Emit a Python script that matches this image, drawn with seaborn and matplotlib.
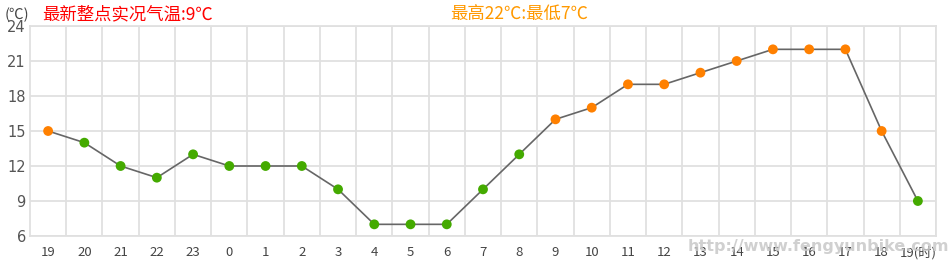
import matplotlib
matplotlib.use("Agg")
import matplotlib.pyplot as plt
import seaborn as sns
import pandas as pd
import numpy as np
from matplotlib import font_manager

hours = ["19", "20", "21", "22", "23", "0", "1", "2", "3", "4", "5", "6", "7",
         "8", "9", "10", "11", "12", "13", "14", "15", "16", "17", "18", "19(时)"]
temps = [15, 14, 12, 11, 13, 12, 12, 12, 10, 7, 7, 7, 10,
         13, 16, 17, 19, 19, 20, 21, 22, 22, 22, 15, 9]
yticks = [6, 9, 12, 15, 18, 21, 24]

sns.set_theme(style="white")
plt.rcParams['font.family'] = ['Noto Sans CJK SC', 'DejaVu Sans']

installed = {f.name for f in font_manager.fontManager.ttflist}
if 'Liberation Sans Narrow' in installed:
    wm_family, wm_size = ['Liberation Sans Narrow'], 15
else:
    wm_family, wm_size = ['DejaVu Sans'], 11.5

df = pd.DataFrame({"pos": np.arange(len(hours)), "temp": temps})
df["level"] = np.where(df["temp"] >= 15, "high", "low")

fig = plt.figure(figsize=(9.51, 2.62), dpi=100)
ax = fig.add_axes([30 / 951, 1 - 236 / 262, (936 - 30) / 951, (236 - 26) / 262])

sns.lineplot(data=df, x="pos", y="temp", ax=ax, color="#666666", linewidth=1.2, zorder=3)
sns.scatterplot(data=df, x="pos", y="temp", hue="level", ax=ax,
                palette={"high": "#ff8000", "low": "#44aa00"}, s=50,
                edgecolor="none", legend=False, zorder=4)

ax.set_xlim(-0.5, len(hours) - 0.5)
ax.set_ylim(6, 24)
ax.set_yticks(yticks)
ax.set_yticklabels([str(v) for v in yticks], fontsize=10.5, color="#555555",
                   family=['DejaVu Sans'])
ax.set_xticks(np.arange(len(hours)))
ax.set_xticklabels(hours, fontsize=9.5, color="#444444")
ax.set_xticks(np.arange(len(hours)) + 0.5, minor=True)
ax.tick_params(axis='x', which='both', length=0, pad=7)
ax.tick_params(axis='y', length=0, pad=3)
ax.grid(False)
ax.grid(True, which='minor', axis='x', color="#e0e0e0", linewidth=1.3)
ax.grid(True, which='major', axis='y', color="#e0e0e0", linewidth=1.3)
ax.set_xlabel("")
ax.set_ylabel("")
for sp in ax.spines.values():
    sp.set_color("#e0e0e0")
    sp.set_linewidth(1.3)

fig.text(5 / 951, 1 - 15 / 262, "(℃)", fontsize=10.5, color="#444444", va="center")
fig.text(42 / 951, 1 - 14 / 262, "最新整点实况气温:9℃", fontsize=12.5, color="#ff0000", va="center")
fig.text(450 / 951, 1 - 14 / 262, "最高22℃:最低7℃", fontsize=12.5, color="#ff9900", va="center")
fig.text(688 / 951, 1 - 246 / 262, "http://www.fengyunbike.com", fontsize=wm_size, color="#c8c8c8",
         alpha=0.85, fontweight="bold", va="center", family=wm_family, zorder=10)

fig.savefig("out.png", dpi=100)
